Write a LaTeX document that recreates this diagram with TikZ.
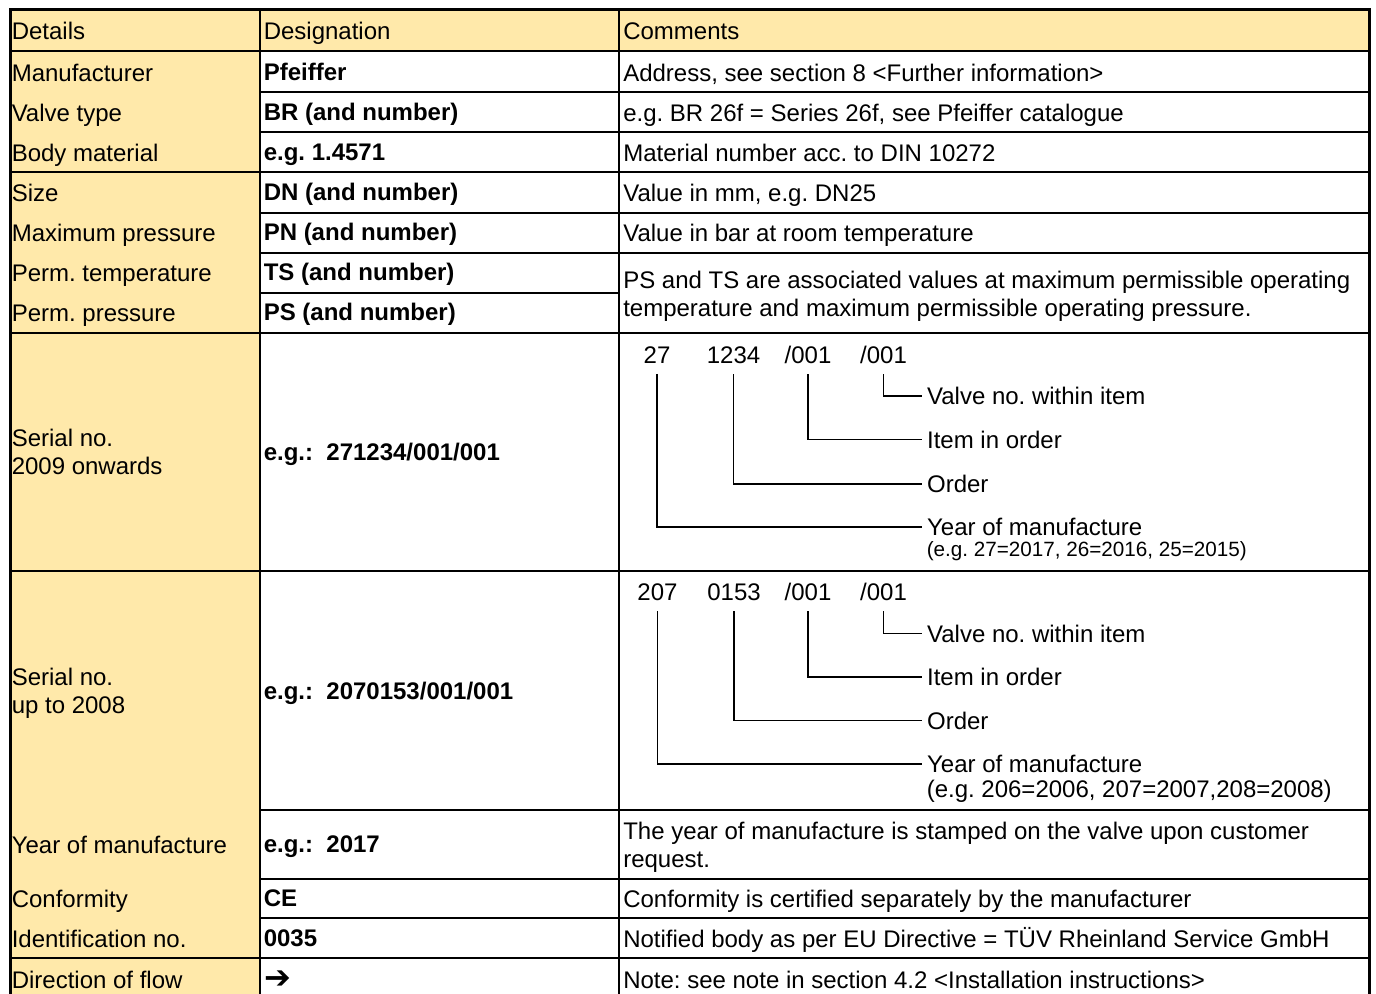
\documentclass[tikz,border=0pt]{standalone}
\usepackage{fontspec}
\setmainfont{Liberation Sans}
\newfontfamily\symfont{DejaVu Sans}
\definecolor{cellyellow}{RGB}{255,233,170}
\newcommand\cellfont{\fontsize{18pt}{21pt}\selectfont}
\newcommand\notefont{\fontsize{15.5pt}{18pt}\selectfont}
\frenchspacing

\tikzset{
  grid/.style={line width=0.9pt},
  frame/.style={line width=2.25pt,line join=miter},
  lead/.style={line width=1.3pt,shorten <=7.5pt}
}

\begin{document}
\begin{tikzpicture}[x=0.75pt,y=-0.75pt]
    \useasboundingbox (0,0) rectangle (1376,994);

    % yellow cells
    \fill[cellyellow] (10,10) rectangle (1369,51);
    \fill[cellyellow] (10,51) rectangle (260,994);

    % rules
    \foreach \y in {51,172,333,958}
      \draw[grid] (10,\y) -- (1369,\y);
    \foreach \y in {92,132,213,253,810,879,918}
      \draw[grid] (260,\y) -- (1369,\y);
    \draw[grid] (260,293) -- (619,293);
    \draw[grid] (10,571) -- (619,571);
    \draw[line width=1.6pt] (619,571) -- (1369,571);
    \foreach \x in {260,619}
      \draw[grid] (\x,10) -- (\x,994);
    \draw[frame] (10,994) -- (10,10) -- (1369,10) -- (1369,994);

    % details
    \begin{scope}[every node/.style={anchor=base west,inner sep=0pt,font=\cellfont}]
      \node (d-head) at (11.5,39.5) {Details};
      \node (d-man) at (11.5,81.5) {Manufacturer};
      \node (d-type) at (11.5,121.5) {Valve type};
      \node (d-mat) at (11.5,161.5) {Body material};
      \node (d-size) at (11.5,202) {Size};
      \node (d-pmax) at (11.5,242) {Maximum pressure};
      \node (d-ptemp) at (11.5,282) {Perm. temperature};
      \node (d-pperm) at (11.5,322) {Perm. pressure};
      \node[anchor=west,align=left] (d-ser1) at (11.5,452) {Serial no.\\2009 onwards};
      \node[anchor=west,align=left] (d-ser2) at (11.5,693.5) {Serial no.\\up to 2008};
      \node (d-year) at (11.5,853.5) {Year of manufacture};
      \node (d-conf) at (11.5,907.5) {Conformity};
      \node (d-ident) at (11.5,947.5) {Identification no.};
      \node (d-flow) at (11.5,988.5) {Direction of flow};
    \end{scope}

    % designation
    \begin{scope}[every node/.style={anchor=base west,inner sep=0pt,font=\cellfont\bfseries}]
      \node[font=\cellfont] (g-head) at (263.5,39.5) {Designation};
      \node (g-man) at (263.5,80.5) {Pfeiffer};
      \node (g-type) at (263.5,120.5) {BR (and number)};
      \node (g-mat) at (263.5,160.5) {e.g. 1.4571};
      \node (g-size) at (263.5,201) {DN (and number)};
      \node (g-pmax) at (263.5,241) {PN (and number)};
      \node (g-ptemp) at (263.5,281) {TS (and number)};
      \node (g-pperm) at (263.5,321) {PS (and number)};
      \node (g-ser1) at (263.5,460.5) {e.g.:\ \ 271234/001/001};
      \node (g-ser2) at (263.5,699.5) {e.g.:\ \ 2070153/001/001};
      \node (g-year) at (263.5,852) {e.g.:\ \ 2017};
      \node (g-conf) at (263.5,906.5) {CE};
      \node (g-ident) at (263.5,946.5) {0035};
      \node[font=\symfont\bfseries\fontsize{24pt}{26pt}\selectfont] (g-flow) at (264.5,988) {➔};
    \end{scope}

    % comments
    \begin{scope}[every node/.style={anchor=base west,inner sep=0pt,font=\cellfont}]
      \node (c-head) at (623,39.5) {Comments};
      \node (c-man) at (623,81.5) {Address, see section 8 <Further information>};
      \node (c-type) at (623,121.5) {e.g. BR 26f = Series 26f, see Pfeiffer catalogue};
      \node (c-mat) at (623,161.5) {Material number acc. to DIN 10272};
      \node (c-size) at (623,202) {Value in mm, e.g. DN25};
      \node (c-pmax) at (623,242) {Value in bar at room temperature};
      \node[anchor=west,align=left] (c-pt) at (623,296.5)
        {PS and TS are associated values at maximum permissible operating\\temperature and maximum permissible operating pressure.};
      \node[anchor=west,align=left] (c-year) at (623,847.5)
        {The year of manufacture is stamped on the valve upon customer\\request.};
      \node (c-conf) at (623,907.5) {Conformity is certified separately by the manufacturer};
      \node (c-ident) at (623,947.5) {Notified body as per EU Directive = TÜV Rheinland Service GmbH};
      \node (c-flow) at (623,988.5) {Note: see note in section 4.2 <Installation instructions>};
    \end{scope}

    % serial number keys
    \begin{scope}[every node/.style={anchor=base,inner sep=0pt,font=\cellfont}]
      \node (s1-yr) at (657,363.5) {27};
      \node (s1-ord) at (733.5,363.5) {1234};
      \node (s1-item) at (808,363.5) {/001};
      \node (s1-valve) at (883.5,363.5) {/001};
      \node (s2-yr) at (657.5,600.5) {207};
      \node (s2-ord) at (734,600.5) {0153};
      \node (s2-item) at (808,600.5) {/001};
      \node (s2-valve) at (883.5,600.5) {/001};
    \end{scope}

    \begin{scope}[every node/.style={anchor=west,inner xsep=4pt,inner ysep=0pt,font=\cellfont}]
      \node (l1-valve) at (921.5,396) {Valve no. within item};
      \node (l1-item) at (921.5,439.5) {Item in order};
      \node (l1-ord) at (921.5,484) {Order};
      \node (l1-yr) at (921.5,527) {Year of manufacture};
      \node (l2-valve) at (921.5,633.5) {Valve no. within item};
      \node (l2-item) at (921.5,677) {Item in order};
      \node (l2-ord) at (921.5,720.5) {Order};
      \node (l2-yr) at (921.5,764) {Year of manufacture};
    \end{scope}
    \node[anchor=base west,inner sep=0pt,font=\notefont] (n1) at (926.5,556) {(e.g. 27=2017, 26=2016, 25=2015)};
    \node[anchor=base west,inner sep=0pt,font=\cellfont] (n2) at (926.5,797.5) {(e.g. 206=2006, 207=2007,208=2008)};

    \foreach \k in {1,2} {
      \draw[lead] (s\k-valve.south) |- (l\k-valve.west);
      \draw[lead] (s\k-item.south) |- (l\k-item.west);
      \draw[lead] (s\k-ord.south) |- (l\k-ord.west);
      \draw[lead] (s\k-yr.south) |- (l\k-yr.west);
    }
\end{tikzpicture}
\end{document}
